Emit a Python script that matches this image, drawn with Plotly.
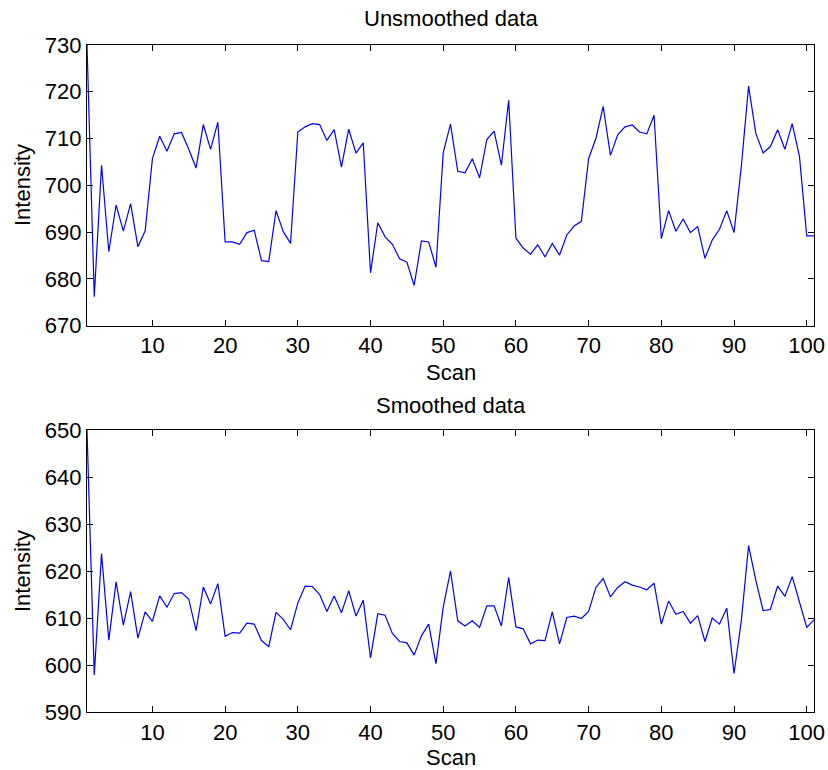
import plotly.graph_objects as go

scan = list(range(1, 102))

unsmoothed = [
    730.0, 676.2, 704.3, 685.8, 695.8, 690.2, 696.1, 686.9, 690.3, 705.7,
    710.5, 707.3, 711.0, 711.3, 707.7, 703.7, 713.0, 707.7, 713.5, 687.9,
    687.9, 687.4, 689.9, 690.4, 683.9, 683.7, 694.6, 690.1, 687.6, 711.4,
    712.5, 713.2, 713.0, 709.6, 711.9, 703.9, 712.0, 706.9, 709.1, 681.3,
    692.0, 689.0, 687.4, 684.3, 683.6, 678.6, 688.1, 687.9, 682.5, 707.0,
    713.1, 703.0, 702.7, 705.7, 701.6, 709.8, 711.6, 704.3, 718.2, 688.7,
    686.6, 685.3, 687.3, 684.7, 687.6, 685.1, 689.4, 691.3, 692.3, 705.7,
    710.0, 716.9, 706.4, 710.8, 712.5, 712.9, 711.4, 711.0, 715.0, 688.6,
    694.6, 690.2, 692.8, 689.9, 691.2, 684.4, 688.3, 690.6, 694.6, 689.9,
    704.0, 721.2, 711.1, 706.9, 708.3, 711.9, 707.7, 713.2, 706.2, 689.2,
    689.2,
]

smoothed = [
    650.0, 597.9, 623.7, 605.3, 617.7, 608.5, 615.6, 605.7, 611.3, 609.3,
    614.7, 612.3, 615.2, 615.4, 614.0, 607.3, 616.6, 613.0, 617.3, 606.1,
    606.9, 606.8, 608.9, 608.7, 605.2, 603.9, 611.2, 609.7, 607.5, 613.2,
    616.8, 616.7, 615.0, 611.4, 614.7, 611.1, 615.8, 610.4, 613.8, 601.5,
    610.9, 610.6, 606.7, 605.0, 604.7, 602.1, 606.2, 608.7, 600.3, 612.3,
    620.0, 609.4, 608.3, 609.4, 608.0, 612.6, 612.6, 608.3, 618.6, 608.1,
    607.7, 604.5, 605.3, 605.2, 611.3, 604.5, 610.1, 610.4, 609.9, 611.4,
    616.5, 618.4, 614.5, 616.5, 617.7, 617.0, 616.6, 616.0, 617.4, 608.7,
    613.6, 610.8, 611.4, 608.9, 610.5, 605.0, 610.0, 608.7, 612.1, 598.2,
    609.4, 625.4, 618.0, 611.6, 611.8, 616.8, 614.6, 618.8, 613.4, 608.0,
    609.6,
]

x_ticks = [10, 20, 30, 40, 50, 60, 70, 80, 90, 100]
top_y_ticks = [670, 680, 690, 700, 710, 720, 730]
bottom_y_ticks = [590, 600, 610, 620, 630, 640, 650]
titles = ["Unsmoothed data", "Smoothed data"]
x_title = "Scan"
y_title = "Intensity"

FONT = "Liberation Sans, Arial, sans-serif"
FS = 22
W, H = 828, 770
ML, MR, MT, MB = 87, 14, 45, 58
PH = H - MT - MB


def py(p):
    return (H - MB - p) / PH


def px(p):
    return (p - ML) / (W - ML - MR)


fig = go.Figure()
fig.add_trace(go.Scatter(x=scan, y=unsmoothed, mode="lines",
                         line=dict(color="#0000ff", width=1.2),
                         xaxis="x", yaxis="y", showlegend=False))
fig.add_trace(go.Scatter(x=scan, y=smoothed, mode="lines",
                         line=dict(color="#0000ff", width=1.2),
                         xaxis="x2", yaxis="y2", showlegend=False))

axis_common = dict(showline=True, linecolor="black", linewidth=1.3, mirror="ticks",
                   ticks="inside", ticklen=6, tickcolor="black", tickwidth=1,
                   showgrid=False, zeroline=False, automargin=False,
                   tickfont=dict(family=FONT, size=FS, color="black"))

fig.update_layout(
    width=W, height=H,
    margin=dict(l=ML, r=MR, t=MT, b=MB, autoexpand=False),
    paper_bgcolor="white", plot_bgcolor="white",
    xaxis=dict(domain=[0, 1], range=[1, 101], tickvals=x_ticks, anchor="y", **axis_common),
    yaxis=dict(domain=[py(325.7), 1], range=[670, 730], tickvals=top_y_ticks, anchor="x", **axis_common),
    xaxis2=dict(domain=[0, 1], range=[1, 101], tickvals=x_ticks, anchor="y2", **axis_common),
    yaxis2=dict(domain=[0, py(430)], range=[590, 650], tickvals=bottom_y_ticks, anchor="x2", **axis_common),
)

ann_font = dict(family=FONT, size=FS, color="black")
cx = 0.5
annotations = [
    dict(text=titles[0], x=cx, y=py(19), xref="paper", yref="paper",
         xanchor="center", yanchor="middle", showarrow=False, font=ann_font),
    dict(text=x_title, x=cx, y=py(372), xref="paper", yref="paper",
         xanchor="center", yanchor="middle", showarrow=False, font=ann_font),
    dict(text=titles[1], x=cx, y=py(405), xref="paper", yref="paper",
         xanchor="center", yanchor="middle", showarrow=False, font=ann_font),
    dict(text=x_title, x=cx, y=py(757), xref="paper", yref="paper",
         xanchor="center", yanchor="middle", showarrow=False, font=ann_font),
    dict(text=y_title, x=px(22), y=py(185), xref="paper", yref="paper",
         xanchor="center", yanchor="middle", showarrow=False, textangle=-90, font=ann_font),
    dict(text=y_title, x=px(22), y=py(571), xref="paper", yref="paper",
         xanchor="center", yanchor="middle", showarrow=False, textangle=-90, font=ann_font),
]
fig.update_layout(annotations=annotations)

fig.write_html("out.html")
